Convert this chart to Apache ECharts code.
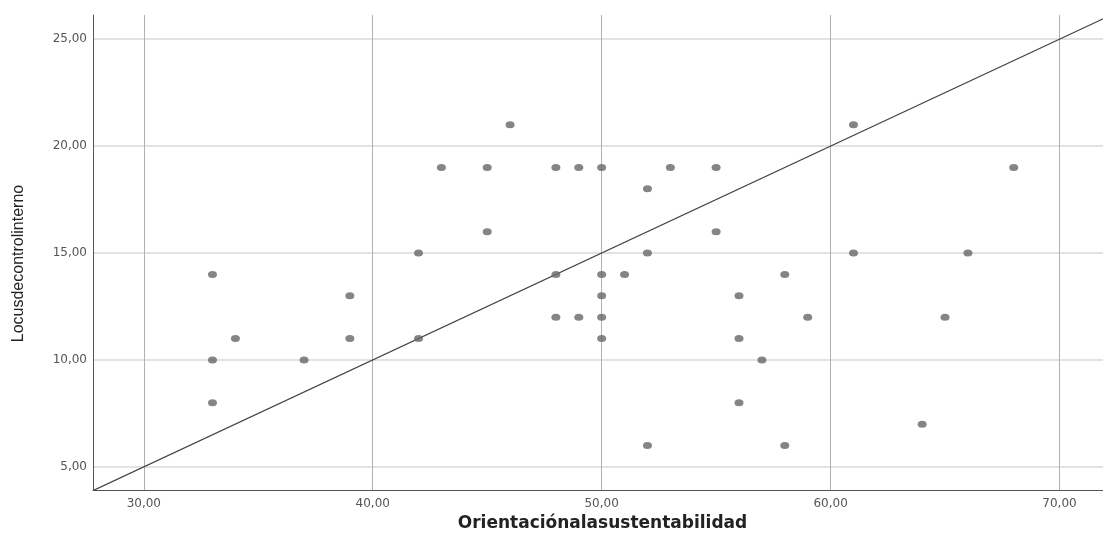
<!DOCTYPE html>
<html><head><meta charset="utf-8">
<script src="https://cdn.jsdelivr.net/npm/echarts@6/dist/echarts.min.js"></script>
<style>html,body{margin:0;padding:0;background:#fff}#c{width:1103px;height:544px}</style>
</head><body><div id="c"></div>
<script>
const xValues = [33,33,33,34,37,39,39,42,42,43,45,45,46,48,48,48,49,49,50,50,50,50,50,51,52,52,52,53,55,55,56,56,56,57,58,58,59,61,61,64,65,66,68];
const yValues = [14,10,8,11,10,13,11,15,11,19,19,16,21,19,14,12,19,12,19,14,13,12,11,14,18,15,6,19,19,16,13,11,8,10,14,6,12,21,15,7,12,15,19];
const xTicks = [30,40,50,60,70];
const yTicks = [5,10,15,20,25];
const xRange = [27.78, 71.9];
const yRange = [3.92, 26.13];
const refLine = [[27.78, 3.89],[72.5, 26.25]];

const fmt = v => v.toFixed(2).replace('.', ',');
const pts = xValues.map((x,i)=>[x, yValues[i]]);
const chart = echarts.init(document.getElementById('c'));
chart.setOption({
  animation:false,
  grid:{left:93,right:0,top:15,bottom:54},
  xAxis:{type:'value',min:xRange[0],max:xRange[1],
    name:'Orientaciónalasustentabilidad',nameLocation:'middle',nameGap:18,
    nameTextStyle:{fontFamily:'DejaVu Sans',fontSize:17,fontWeight:'bold',color:'#222',padding:[0,0,0,9]},
    axisLine:{show:true,lineStyle:{color:'#555',width:1}},
    axisTick:{show:false},splitLine:{show:false},
    axisLabel:{customValues:xTicks,formatter:fmt,fontFamily:'DejaVu Sans',fontSize:12,color:'#555',margin:8}},
  yAxis:{type:'value',min:yRange[0],max:yRange[1],
    name:'Locusdecontrolinterno',nameLocation:'middle',nameGap:66,nameRotate:90,
    nameTextStyle:{fontFamily:'Liberation Sans',fontSize:16,color:'#222',padding:[0,22,0,0]},
    axisLine:{show:true,lineStyle:{color:'#555',width:1}},
    axisTick:{show:false},splitLine:{show:false},
    axisLabel:{customValues:yTicks,formatter:fmt,fontFamily:'DejaVu Sans',fontSize:12,color:'#555',margin:6}},
  series:[
    {type:'line',data:[],silent:true,z:0,
     markLine:{silent:true,symbol:'none',label:{show:false},animation:false,z:0,
       data:[...yTicks.map(v=>({yAxis:v,lineStyle:{color:'#d9d9d9',width:1.5,type:'solid'}})),
             ...xTicks.map(v=>({xAxis:v,lineStyle:{color:'#b0b0b0',width:1,type:'solid'}}))]}},
    {type:'line',data:refLine,symbol:'none',silent:true,lineStyle:{color:'#444',width:1.2},z:3},
    {type:'scatter',data:pts,symbol:'circle',symbolSize:[9,7],itemStyle:{color:'#666666'},z:5}
  ]
});
</script></body></html>
